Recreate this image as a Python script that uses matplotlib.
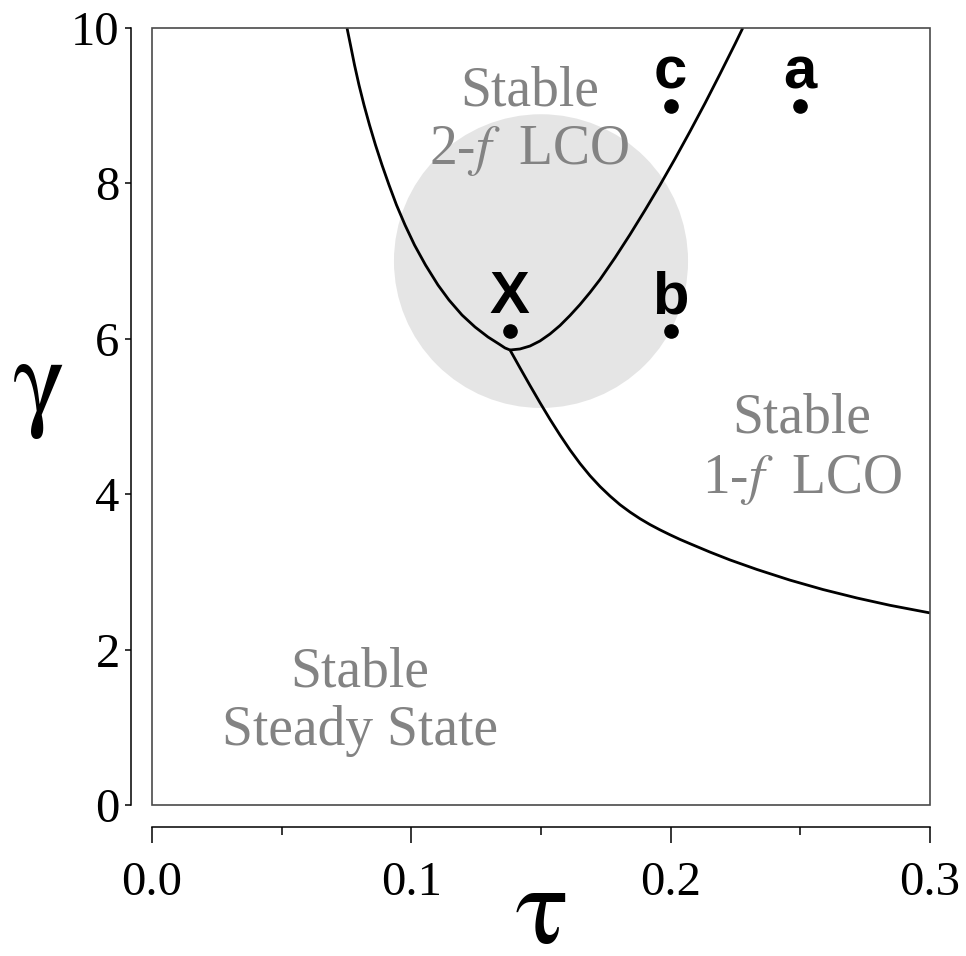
import numpy as np
import matplotlib
matplotlib.use("Agg")
import matplotlib.pyplot as plt
from matplotlib.patches import Ellipse, Rectangle

plt.rcParams['font.family'] = ['Liberation Serif', 'DejaVu Serif']
plt.rcParams['mathtext.fontset'] = 'stix'

# boundary curves (tau, gamma)
left_tau = [0.0752, 0.07654, 0.07809, 0.07982, 0.08175, 0.08387, 0.08618,
            0.08869, 0.09139, 0.09428, 0.09756, 0.10122, 0.10546, 0.11028,
            0.11452, 0.11954, 0.12455, 0.12956, 0.13380, 0.13612, 0.13805]
left_gamma = [10.0, 9.781, 9.524, 9.266, 9.009, 8.752, 8.494,
              8.237, 7.980, 7.722, 7.465, 7.207, 6.950, 6.692,
              6.499, 6.306, 6.152, 6.023, 5.933, 5.882, 5.856]

right_tau = [0.13805, 0.14190, 0.14576, 0.14961, 0.15347, 0.15733, 0.16118,
             0.16504, 0.16889, 0.17275, 0.17853, 0.18432, 0.19010, 0.19589,
             0.20167, 0.20746, 0.21324, 0.21902, 0.22481, 0.22781]
right_gamma = [5.856, 5.869, 5.907, 5.972, 6.062, 6.171, 6.300,
               6.441, 6.596, 6.763, 7.043, 7.342, 7.655, 7.979,
               8.317, 8.669, 9.031, 9.408, 9.794, 10.0]

lower_tau = [0.13805, 0.14190, 0.14576, 0.14961, 0.15347, 0.15733, 0.16118,
             0.16504, 0.16889, 0.17275, 0.17661, 0.18046, 0.18432, 0.18817,
             0.19203, 0.19589, 0.19974, 0.20360, 0.20746, 0.21517, 0.22288,
             0.23329, 0.24602, 0.25874, 0.27185, 0.28458, 0.30000]
lower_gamma = [5.856, 5.626, 5.399, 5.178, 4.964, 4.761, 4.570,
               4.395, 4.238, 4.099, 3.976, 3.865, 3.770, 3.685,
               3.609, 3.541, 3.478, 3.418, 3.363, 3.255, 3.154,
               3.031, 2.894, 2.773, 2.664, 2.570, 2.472]

# marked points
pt_names = ['a', 'b', 'c', 'X']
pt_tau = [0.25, 0.20, 0.20, 0.138]
pt_gamma = [9.0, 6.1, 9.0, 6.1]

# shaded region
circle_center = (0.150, 7.0)

x_ticks = [0.0, 0.1, 0.2, 0.3]
x_minor = [0.05, 0.15, 0.25]
y_ticks = [0, 2, 4, 6, 8, 10]

fig = plt.figure(figsize=(9.66, 9.56), dpi=100)
ax = fig.add_axes([152/966, 151/956, 778/966, 777/956])
ax.set_xlim(0, 0.3)
ax.set_ylim(0, 10)

# grey disc, round on screen
ax.add_patch(Ellipse(circle_center, width=0.1134, height=3.78,
                     facecolor='#e5e5e5', edgecolor='none', zorder=0))

for xs, ys in [(left_tau, left_gamma), (right_tau, right_gamma), (lower_tau, lower_gamma)]:
    ax.plot(xs, ys, color='black', lw=2.0, solid_capstyle='butt', solid_joinstyle='round')

ax.plot(pt_tau, pt_gamma, 'o', color='black', ms=9.5, zorder=5)
for name, t, g in zip(pt_names, pt_tau, pt_gamma):
    ax.annotate(name, (t, g), xytext=(0, 4), textcoords='offset points',
                ha='center', va='bottom', fontsize=43, fontweight='bold',
                family='Liberation Sans', zorder=6)

grey = '#838383'
fs = 40
ax.text(0.1455, 9.0, 'Stable', ha='center', va='baseline', fontsize=fs, color=grey)
ax.text(0.1455, 8.25, '2-$f$  LCO', ha='center', va='baseline', fontsize=fs, color=grey)
ax.text(0.2507, 4.80, 'Stable', ha='center', va='baseline', fontsize=fs, color=grey)
ax.text(0.2507, 4.02, '1-$f$  LCO', ha='center', va='baseline', fontsize=fs, color=grey)
ax.text(0.0802, 1.53, 'Stable', ha='center', va='baseline', fontsize=fs, color=grey)
ax.text(0.0802, 0.77, 'Steady State', ha='center', va='baseline', fontsize=fs, color=grey)

# frame box
ax.add_patch(Rectangle((0, 0), 1, 1, transform=ax.transAxes, fill=False,
                       edgecolor='#4a4a4a', lw=1.2, clip_on=False, zorder=7))

# detached axes
ax.spines['top'].set_visible(False)
ax.spines['right'].set_visible(False)
ax.spines['left'].set_position(('outward', 15))
ax.spines['bottom'].set_position(('outward', 16))
ax.spines['left'].set_bounds(0, 10)
ax.spines['bottom'].set_bounds(0, 0.3)
ax.spines['left'].set_linewidth(1.1)
ax.spines['bottom'].set_linewidth(1.1)

ax.set_xticks(x_ticks)
ax.set_xticklabels([f'{v:.1f}' for v in x_ticks])
ax.set_xticks(x_minor, minor=True)
ax.set_yticks(y_ticks)
ax.set_yticklabels([str(v) for v in y_ticks])
ax.tick_params(axis='x', which='major', length=11.5, width=1.1, pad=13, labelsize=35)
ax.tick_params(axis='x', which='minor', length=5.8, width=1.1)
ax.tick_params(axis='y', which='major', length=4.3, width=1.1, pad=4, labelsize=35)

ax.set_xlabel(r'$\mathrm{\tau}$', fontsize=80, va='baseline')
ax.xaxis.set_label_coords(0.5, -0.178)
ax.set_ylabel(r'$\mathrm{\gamma}$', fontsize=80, rotation=0, va='baseline', ha='center')
ax.yaxis.set_label_coords(-0.1465, 0.502)

fig.savefig('out.png', dpi=100)
